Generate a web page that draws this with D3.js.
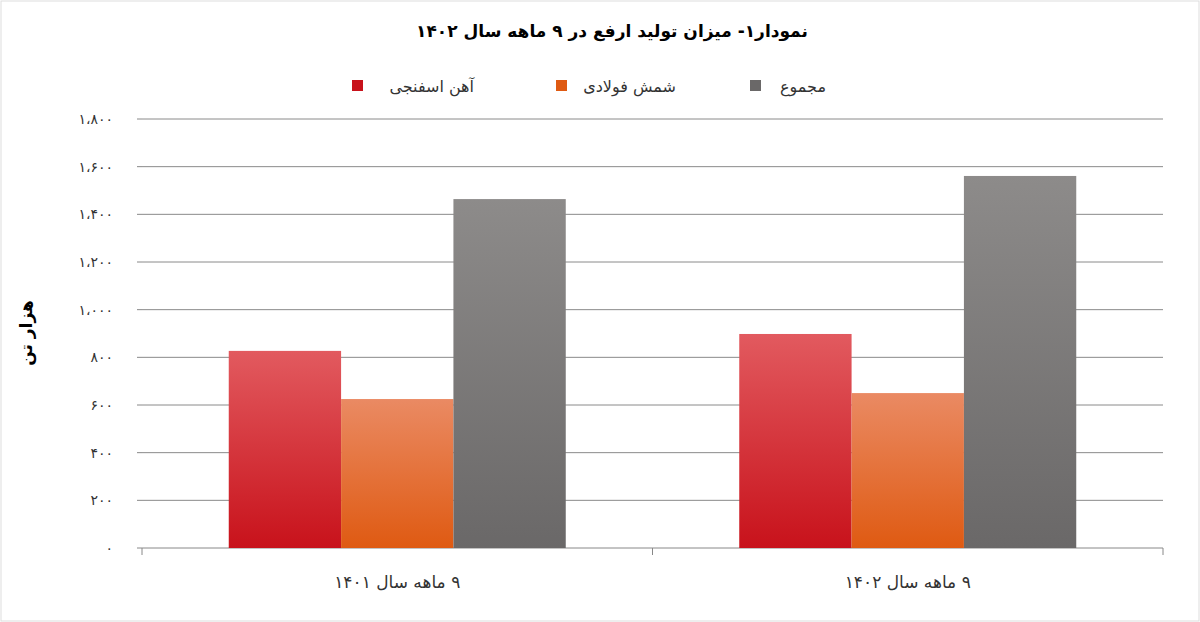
<!DOCTYPE html>
<html><head><meta charset="utf-8">
<script src="https://cdn.jsdelivr.net/npm/d3@7"></script>
<style>body{margin:0;background:#fff}svg{font-family:"DejaVu Sans","Noto Sans",sans-serif}</style>
</head><body><svg id="c" width="1200" height="622"></svg>
<script>
const categories = ["۹ ماهه سال ۱۴۰۱", "۹ ماهه سال ۱۴۰۲"];
const seriesNames = ["آهن اسفنجی", "شمش فولادی", "مجموع"];
const sponge = [827, 898];
const billet = [625, 650];
const total = [1464, 1561];
const yTicks = [0, 200, 400, 600, 800, 1000, 1200, 1400, 1600, 1800];
const yTickLabels = ["۰","۲۰۰","۴۰۰","۶۰۰","۸۰۰","۱،۰۰۰","۱،۲۰۰","۱،۴۰۰","۱،۶۰۰","۱،۸۰۰"];
const title = "نمودار۱- میزان تولید ارفع در ۹ ماهه  سال ۱۴۰۲";
const yTitle = "هزار تن";

const svg = d3.select("#c");
svg.append("rect").attr("x",1).attr("y",1).attr("width",1198).attr("height",620).attr("fill","#fff").attr("stroke","#ddd");
const defs = svg.append("defs");
const cols = [["#e25a5f","#c8121b"],["#ea8a63","#df5a12"],["#8d8b8a","#6a6868"]];
cols.forEach((c,i)=>{const g=defs.append("linearGradient").attr("id","g"+i).attr("x1",0).attr("y1",0).attr("x2",0).attr("y2",1);
g.append("stop").attr("offset","0%").attr("stop-color",c[0]);g.append("stop").attr("offset","100%").attr("stop-color",c[1]);});

const L=142,R=1163,T=119,B=548;
const y=d3.scaleLinear().domain([0,1800]).range([B,T]);
const x0=d3.scaleBand().domain(categories).range([L,R]);
const off=(x0.bandwidth()-337)/2;
const x1=d3.scaleBand().domain(seriesNames).range([off,off+337]);
svg.append("g").selectAll("line").data(yTicks.slice(1)).join("line")
 .attr("x1",L).attr("x2",R).attr("y1",d=>y(d)).attr("y2",d=>y(d)).attr("stroke","#8a8a8a").attr("stroke-width",1);
svg.append("g").selectAll("text").data(yTicks).join("text")
 .attr("x",L-29).attr("y",d=>y(d)+5).attr("text-anchor","end").attr("font-size",14).attr("fill","#333")
 .text((d,i)=>yTickLabels[i]);
svg.append("g").selectAll("line").data(yTicks).join("line").attr("x1",L-5).attr("x2",L).attr("y1",d=>y(d)).attr("y2",d=>y(d)).attr("stroke","#888");
svg.append("line").attr("x1",L).attr("x2",R).attr("y1",B).attr("y2",B).attr("stroke","#888");
[L,(L+R)/2,R].forEach(v=>svg.append("line").attr("x1",v).attr("x2",v).attr("y1",B).attr("y2",B+7).attr("stroke","#888"));
const data=[sponge,billet,total];
categories.forEach((c,ci)=>{
  const g=svg.append("g").attr("transform",`translate(${x0(c)},0)`);
  g.selectAll("rect").data(seriesNames).join("rect")
   .attr("x",s=>x1(s)).attr("width",x1.bandwidth())
   .attr("y",(s,i)=>y(data[i][ci])).attr("height",(s,i)=>B-y(data[i][ci]))
   .attr("fill",(s,i)=>`url(#g${i})`);
  svg.append("text").attr("x",x0(c)+x0.bandwidth()/2).attr("y",588).attr("text-anchor","middle")
   .attr("direction","rtl").attr("font-size",17).attr("fill","#333").text(c);
});
svg.append("text").attr("x",612).attr("y",37).attr("text-anchor","middle").attr("font-size",17).attr("font-weight","bold").attr("direction","rtl").text(title);
svg.append("text").attr("transform","translate(32,333) rotate(-90)").attr("text-anchor","middle").attr("font-size",17).attr("font-weight","bold").text(yTitle);
const sq=[352,556,750], tx=[474,676,826];
seriesNames.forEach((s,i)=>{
  svg.append("rect").attr("x",sq[i]).attr("y",80).attr("width",11).attr("height",11).attr("fill",cols[i][1]);
  svg.append("text").attr("x",tx[i]).attr("y",92).attr("text-anchor","start").attr("font-size",16).attr("fill","#333").attr("direction","rtl").text(s);
});
</script></body></html>
